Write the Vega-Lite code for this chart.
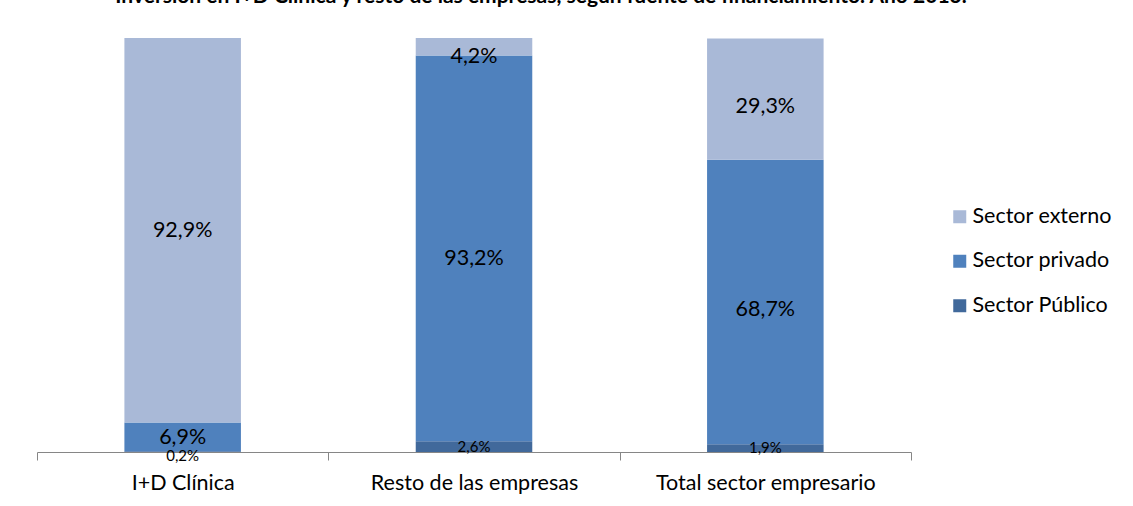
{
  "$schema": "https://vega.github.io/schema/vega-lite/v6.json",
  "autosize": {"type": "none"},
  "width": 874,
  "height": 414,
  "padding": {"left": 37, "top": 38, "right": 222, "bottom": 54},
  "background": "white",
  "title": {
    "text": "Inversión en I+D Clínica y resto de las empresas, según fuente de financiamiento. Año 2013.",
    "font": "Lato",
    "fontSize": 21,
    "fontWeight": "bold",
    "color": "black",
    "anchor": "middle",
    "dx": 67,
    "baseline": "alphabetic",
    "offset": 14
  },
  "config": {
    "locale": {"number": {"decimal": ",", "thousands": ".", "grouping": [3], "currency": ["", " €"]}},
    "view": {"stroke": null},
    "font": "Lato"
  },
  "data": {
    "values": [
      {"categoria": "I+D Clínica", "sector": "Sector Público", "orden": 1, "value": 0.002},
      {"categoria": "I+D Clínica", "sector": "Sector privado", "orden": 2, "value": 0.069},
      {"categoria": "I+D Clínica", "sector": "Sector externo", "orden": 3, "value": 0.929},
      {"categoria": "Resto de las empresas", "sector": "Sector Público", "orden": 1, "value": 0.026},
      {"categoria": "Resto de las empresas", "sector": "Sector privado", "orden": 2, "value": 0.932},
      {"categoria": "Resto de las empresas", "sector": "Sector externo", "orden": 3, "value": 0.042},
      {"categoria": "Total sector empresario", "sector": "Sector Público", "orden": 1, "value": 0.019},
      {"categoria": "Total sector empresario", "sector": "Sector privado", "orden": 2, "value": 0.687},
      {"categoria": "Total sector empresario", "sector": "Sector externo", "orden": 3, "value": 0.293}
    ]
  },
  "encoding": {
    "x": {
      "field": "categoria",
      "type": "nominal",
      "sort": null,
      "scale": {"paddingInner": 0, "paddingOuter": 0},
      "axis": {
        "title": null,
        "labelAngle": 0,
        "labelFont": "Lato",
        "labelFontSize": 21.5,
        "labelColor": "black",
        "labelPadding": 12,
        "labelLimit": 0,
        "domainColor": "#868686",
        "tickColor": "#868686",
        "tickSize": 8,
        "tickBand": "extent",
        "domainWidth": 1
      }
    },
    "y": {
      "field": "value",
      "type": "quantitative",
      "stack": "zero",
      "scale": {"domain": [0, 1], "nice": false},
      "axis": null
    },
    "order": {"field": "orden", "type": "quantitative"}
  },
  "layer": [
    {
      "mark": {"type": "bar", "width": {"band": 0.4}},
      "encoding": {
        "color": {
          "field": "sector",
          "type": "nominal",
          "scale": {
            "domain": ["Sector externo", "Sector privado", "Sector Público"],
            "range": ["#A9B9D7", "#4F81BD", "#41699B"]
          },
          "legend": {
            "title": null,
            "orient": "none",
            "legendX": 912,
            "legendY": 168,
            "symbolType": "square",
            "symbolSize": 169,
            "symbolStrokeWidth": 0,
            "labelFont": "Lato",
            "labelFontSize": 21.5,
            "labelColor": "black",
            "labelOffset": 2,
            "rowPadding": 21.5
          }
        }
      }
    },
    {
      "transform": [{"filter": "datum.value >= 0.03"}],
      "mark": {"type": "text", "fontSize": 21.5, "color": "black", "font": "Lato"},
      "encoding": {
        "y": {"field": "value", "type": "quantitative", "stack": "zero", "bandPosition": 0.5},
        "text": {"field": "value", "type": "quantitative", "format": ".1%"}
      }
    },
    {
      "transform": [{"filter": "datum.value < 0.03 && datum.value >= 0.01"}],
      "mark": {"type": "text", "fontSize": 15, "color": "black", "font": "Lato"},
      "encoding": {
        "y": {"field": "value", "type": "quantitative", "stack": "zero", "bandPosition": 0.5},
        "text": {"field": "value", "type": "quantitative", "format": ".1%"}
      }
    },
    {
      "transform": [{"filter": "datum.value < 0.01"}],
      "mark": {"type": "text", "fontSize": 15, "color": "black", "font": "Lato", "dy": 4},
      "encoding": {
        "y": {"field": "value", "type": "quantitative", "stack": "zero", "bandPosition": 0.5},
        "text": {"field": "value", "type": "quantitative", "format": ".1%"}
      }
    }
  ]
}
